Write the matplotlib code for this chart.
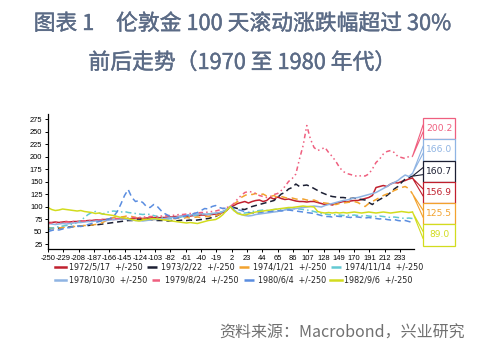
import numpy as np
import matplotlib
matplotlib.use("Agg")
import matplotlib.pyplot as plt
import matplotlib.patheffects as pe
from matplotlib.patches import Rectangle
from matplotlib.lines import Line2D

plt.rcParams['font.family'] = ['DejaVu Sans']
plt.rcParams['axes.unicode_minus'] = False

# trading days relative to the event day, sampled every 5 days
days = np.arange(-250, 251, 5)

s1972_05_17 = [68, 68, 69, 68, 69, 70, 69, 70, 70, 71, 71,
               72, 72, 73, 73, 74, 74, 75, 74, 75, 75,
               76, 75, 76, 76, 77, 76, 77, 77, 78, 77,
               78, 78, 79, 79, 80, 80, 81, 80, 81, 82,
               82, 83, 83, 84, 84, 85, 86, 88, 92,
               100,
               102, 106, 108, 110, 107, 110, 112, 113, 110, 112,
               118, 115, 119, 116, 114, 115, 113, 111, 110, 110,
               109, 110, 110, 108, 106, 104, 105, 103, 106, 108,
               110, 109, 111, 112, 112, 114, 116, 118, 122, 138,
               140, 142, 140, 145, 148, 147, 150, 152, 155, 156.9]

s1973_02_22 = [55, 56, 56, 57, 58, 58, 59, 60, 60, 61, 62,
               62, 63, 63, 64, 65, 66, 67, 68, 69, 70,
               71, 72, 72, 73, 74, 74, 75, 74, 73, 72,
               72, 72, 71, 72, 71, 72, 73, 72, 73, 72,
               73, 74, 75, 76, 78, 80, 84, 88, 93,
               100,
               98, 96, 95, 94, 97, 100, 102, 104, 106, 108,
               110, 112, 118, 125, 128, 135, 138, 145, 140, 142,
               143, 140, 136, 132, 128, 125, 122, 120, 119, 118,
               118, 117, 116, 117, 115, 114, 113, 108, 104, 110,
               114, 118, 122, 128, 135, 140, 148, 155, 158, 160.7]

s1974_01_21 = [58, 57, 56, 57, 58, 59, 58, 60, 60, 61, 62,
               62, 63, 64, 65, 68, 72, 76, 78, 80, 79,
               80, 82, 80, 78, 76, 75, 74, 73, 74, 75,
               74, 75, 76, 75, 76, 77, 76, 78, 77, 78,
               79, 78, 80, 80, 82, 81, 84, 88, 94,
               100,
               105, 110, 118, 122, 125, 124, 126, 123, 125, 121,
               120, 122, 118, 120, 118, 116, 117, 115, 114, 115,
               113, 112, 113, 110, 108, 107, 106, 105, 104, 106,
               107, 108, 109, 110, 108, 104, 100, 106, 110, 114,
               118, 122, 125, 128, 132, 135, 138, 140, 136, 125.5]

s1974_11_14 = [56, 57, 58, 60, 61, 62, 63, 65, 68, 72, 78,
               84, 88, 90, 87, 85, 88, 90, 91, 90, 89,
               90, 88, 87, 86, 85, 84, 85, 84, 82, 80,
               78, 76, 75, 76, 77, 78, 80, 79, 81, 82,
               83, 84, 85, 85, 86, 87, 88, 90, 94,
               100,
               93, 88, 86, 87, 88, 90, 91, 92, 93, 92,
               93, 94, 95, 94, 95, 96, 95, 96, 95, 94,
               93, 92, 90, 88, 86, 85, 84, 83, 84, 83,
               82, 83, 82, 83, 82, 81, 82, 81, 80, 80,
               81, 80, 79, 78, 79, 78, 77, 76, 77, 76]

s1978_10_30 = [66, 65, 64, 65, 66, 65, 66, 67, 68, 68, 69,
               70, 70, 71, 71, 72, 72, 73, 74, 74, 75,
               75, 74, 73, 72, 72, 71, 72, 73, 74, 74,
               75, 76, 77, 78, 78, 80, 81, 82, 83, 84,
               85, 86, 85, 84, 86, 87, 88, 90, 94,
               100,
               92, 88, 84, 82, 81, 82, 84, 85, 86, 87,
               88, 89, 90, 92, 93, 94, 95, 96, 97, 98,
               99, 100, 101, 100, 99, 102, 104, 106, 108, 110,
               112, 113, 115, 117, 118, 120, 122, 124, 126, 128,
               132, 136, 140, 145, 148, 152, 158, 163, 160, 166.0]

s1979_08_24 = [66, 67, 67, 68, 68, 69, 69, 70, 70, 71, 71,
               72, 72, 73, 73, 74, 74, 75, 75, 76, 76,
               77, 77, 78, 78, 78, 79, 79, 80, 80, 80,
               81, 81, 82, 82, 83, 84, 84, 85, 86, 86,
               87, 88, 88, 89, 90, 91, 93, 96, 98,
               100,
               106, 115, 122, 128, 130, 129, 126, 122, 120, 118,
               120, 124, 126, 132, 140, 150, 156, 165, 195, 222,
               262, 235, 218, 212, 215, 218, 208, 200, 190, 178,
               170, 166, 164, 162, 160, 162, 161, 165, 175, 188,
               195, 205, 210, 212, 208, 200, 198, 196, 200, 200.2]

s1980_06_04 = [50, 52, 54, 53, 55, 57, 58, 60, 61, 60, 62,
               64, 66, 68, 70, 72, 74, 76, 80, 90, 105,
               122, 134, 118, 110, 112, 108, 100, 98, 104, 100,
               92, 86, 82, 78, 76, 78, 80, 82, 84, 86,
               88, 92, 96, 95, 100, 102, 98, 96, 97,
               100,
               96, 94, 92, 90, 88, 87, 86, 88, 89, 90,
               90, 91, 92, 91, 92, 93, 92, 91, 90, 89,
               88, 87, 86, 84, 82, 80, 80, 79, 81, 80,
               80, 79, 78, 80, 79, 78, 77, 78, 77, 76,
               75, 76, 74, 73, 74, 72, 71, 72, 70, 68]

s1982_09_06 = [98, 94, 92, 93, 95, 94, 93, 92, 91, 92, 90,
               89, 88, 86, 87, 85, 84, 83, 82, 80, 78,
               77, 76, 74, 72, 71, 73, 74, 75, 76, 75,
               74, 73, 72, 71, 70, 69, 68, 67, 68, 67,
               66, 68, 70, 72, 73, 74, 78, 84, 92,
               100,
               92, 86, 84, 83, 85, 87, 89, 90, 91, 92,
               93, 94, 95, 96, 97, 98, 98, 99, 100, 101,
               100, 100, 99, 90, 88, 87, 88, 87, 88, 87,
               88, 87, 88, 89, 88, 87, 88, 89, 88, 87,
               88, 89, 88, 87, 88, 89, 90, 89, 88, 89.0]

labels = ["1972/5/17  +/-250", "1973/2/22  +/-250", "1974/1/21  +/-250",
          "1974/11/14  +/-250", "1978/10/30  +/-250", "1979/8/24  +/-250",
          "1980/6/4  +/-250", "1982/9/6  +/-250"]
series = [s1972_05_17, s1973_02_22, s1974_01_21, s1974_11_14,
          s1978_10_30, s1979_08_24, s1980_06_04, s1982_09_06]
colors = ["#c0202e", "#1c1f33", "#f2a22e", "#63c9d2",
          "#8fb4e3", "#ef5f7f", "#5a8de0", "#d2dc1e"]
styles = ["-", (0, (4, 2.5)), (0, (4, 3)), (0, (4, 2, 1, 2)),
          "-", (0, (3, 2, 1, 2, 1, 2)), (0, (4, 2.5)), "-"]
# series that carry an end-value callout
tagged = [5, 4, 1, 0, 2, 7]

xticks = list(range(-250, 251, 21))
yticks = list(range(25, 276, 25))

fig = plt.figure(figsize=(4.84, 3.47), dpi=100)
ax = fig.add_axes([0.0992, 0.2824, 0.756, 0.389])

for s, c, ls in zip(series, colors, styles):
    ax.plot(days, s, color=c, lw=1.1, ls=ls)

ax.set_xlim(-250, 252)
ax.set_ylim(15, 285)
ax.set_xticks(xticks)
ax.set_yticks(yticks)
ax.tick_params(axis='both', length=2.5, width=0.7, pad=1.5,
               direction='out', colors='black')
for lab in ax.get_xticklabels() + ax.get_yticklabels():
    lab.set_family(['Liberation Sans', 'DejaVu Sans'])
    lab.set_fontsize(5.4)
for side in ('top', 'right'):
    ax.spines[side].set_visible(False)
for side in ('left', 'bottom'):
    ax.spines[side].set_linewidth(0.9)

# end-value callouts stacked at the right of the plot
box_x0, box_w = 264.5, 44
box_top, box_h = 277, 42.5
for k, idx in enumerate(tagged):
    val = series[idx][-1]
    c = colors[idx]
    y1 = box_top - k * box_h
    y0 = y1 - box_h
    yc = (y0 + y1) / 2
    ax.add_line(Line2D([box_x0, days[-1], box_x0], [yc + 7, val, yc - 7],
                       color=c, lw=0.8, clip_on=False))
    ax.add_patch(Rectangle((box_x0, y0), box_w, box_h, facecolor='white',
                           edgecolor=c, lw=0.9, clip_on=False, zorder=5))
    ax.text(box_x0 + box_w / 2, yc, f"{val:.1f}", color=c, fontsize=6.6,
            ha='center', va='center', clip_on=False, zorder=6)

# legend: two free-flowing rows of four entries
for row, ytop in ((range(0, 4), 1 - 262.5 / 347), (range(4, 8), 1 - 275.5 / 347)):
    handles = [Line2D([], [], color=colors[i], lw=1.8, ls=styles[i]) for i in row]
    leg = fig.legend(handles, [labels[i] for i in row], ncol=4, loc='upper left',
                     bbox_to_anchor=(55 / 484, ytop), frameon=False, fontsize=5.8,
                     handlelength=1.4, handletextpad=0.3, columnspacing=0.6,
                     borderaxespad=0, borderpad=0)
    for t in leg.get_texts():
        t.set_color('#222222')

title_font = ['Noto Sans CJK SC', 'DejaVu Sans']
title_color = '#5b6b86'
thicken = [pe.withStroke(linewidth=0.3, foreground=title_color)]
fig.text(0.5, 1 - 24 / 347, "图表 1　伦敦金 100 天滚动涨跌幅超过 30%",
         ha='center', va='center', fontsize=15.7, color=title_color,
         family=title_font, path_effects=thicken)
fig.text(0.5, 1 - 63 / 347, "前后走势（1970 至 1980 年代）",
         ha='center', va='center', fontsize=15.7, color=title_color,
         family=title_font, path_effects=thicken)
fig.text(0.452, 1 - 333 / 347, "资料来源：Macrobond，兴业研究",
         ha='left', va='center', fontsize=11.5, color='#707070',
         family=title_font)

fig.savefig("out.png", dpi=100)
